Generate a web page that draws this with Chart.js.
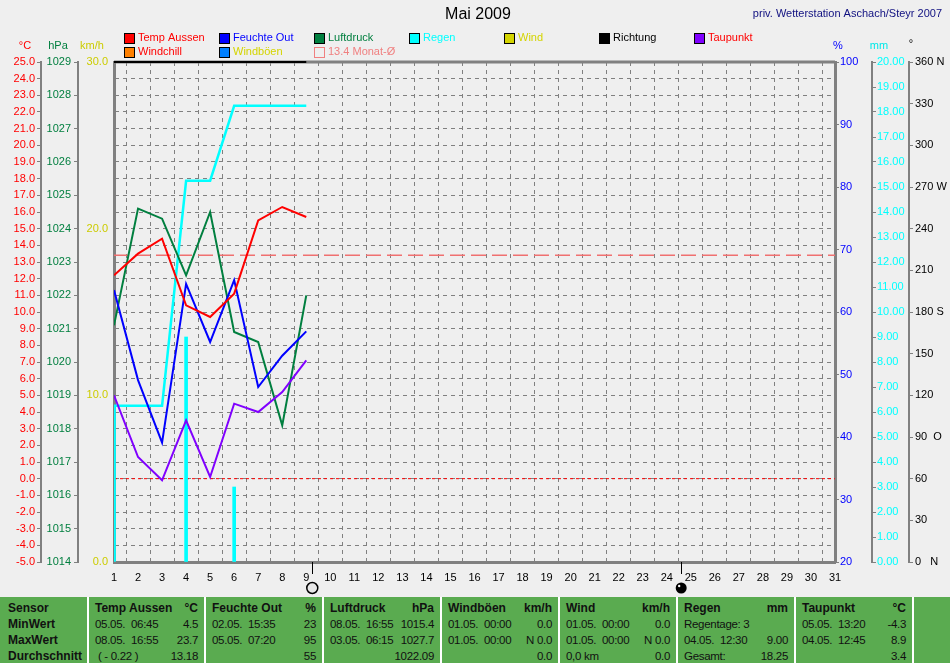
<!DOCTYPE html>
<html><head><meta charset="utf-8">
<script src="https://cdn.jsdelivr.net/npm/chart.js@4/dist/chart.umd.min.js"></script>
<style>
html,body{margin:0;padding:0;background:#efefef;}
#wrap{position:relative;width:950px;height:663px;overflow:hidden;font-family:"Liberation Sans",Arial,sans-serif;background:#efefef;}
#c{position:absolute;left:0;top:0;}
#tbl{position:absolute;left:0;top:597px;width:950px;height:66px;background:#5aab50;}
.sep{position:absolute;top:0;width:2px;height:66px;background:#fff;}
.t{position:absolute;font-size:11.5px;color:#111;white-space:pre;line-height:14px;letter-spacing:-0.3px;}
.b{font-weight:bold;font-size:12px;letter-spacing:0;}
</style></head>
<body>
<div id="wrap">
<canvas id="c" width="950" height="597"></canvas>
<div id="tbl"></div>
</div>
<script>
// ---- data ----
const days = [1, 2, 3, 4, 5, 6, 7, 8, 9];
const tempAussen = [12.2, 13.5, 14.4, 10.4, 9.7, 11.1, 15.5, 16.3, 15.7];
const feuchteOut = [63.5, 49.1, 39.1, 64.5, 55.2, 65.1, 48.0, 53.0, 56.9];
const luftdruck = [1021.1, 1024.6, 1024.3, 1022.6, 1024.5, 1020.9, 1020.6, 1018.1, 1022.0];
const taupunkt = [5.0, 1.3, -0.1, 3.5, 0.1, 4.5, 4.0, 5.2, 7.1];
const regenSumme = [6.25, 6.25, 6.25, 15.25, 15.25, 18.25, 18.25, 18.25, 18.25];
const regenTag = [6.25, 0, 0, 9.00, 0, 3.00, 0, 0, 0];
const monatMittel = 13.4;
const monthDays = [1, 31];
const moonFull = 9.25;
const moonNew = 24.6;
const dirTickValues = [0, 30, 60, 90, 120, 150, 180, 210, 240, 270, 300, 330, 360];
const dirTickLabels = ['0   N', '30', '60', '90  O', '120', '150', '180 S', '210', '240', '270 W', '300', '330', '360 N'];

// table texts
const tableCols = [
  {head:['Sensor',''], rows:[['MinWert',''],['MaxWert',''],['Durchschnitt','']], boldAll:true},
  {head:['Temp Aussen','°C'], rows:[['05.05.  06:45','4.5'],['08.05.  16:55','23.7'],[' ( - 0.22 )','13.18']]},
  {head:['Feuchte Out','%'], rows:[['02.05.  15:35','23'],['05.05.  07:20','95'],['','55']]},
  {head:['Luftdruck','hPa'], rows:[['08.05.  16:55','1015.4'],['03.05.  06:15','1027.7'],['','1022.09']]},
  {head:['Windböen','km/h'], rows:[['01.05.  00:00','0.0'],['01.05.  00:00','N 0.0'],['','0.0']]},
  {head:['Wind','km/h'], rows:[['01.05.  00:00','0.0'],['01.05.  00:00','N 0.0'],['0,0 km','0.0']]},
  {head:['Regen','mm'], rows:[['Regentage: 3',''],['04.05.  12:30','9.00'],['Gesamt:','18.25']]},
  {head:['Taupunkt','°C'], rows:[['05.05.  13:20','-4.3'],['04.05.  12:45','8.9'],['','3.4']]}
];
const colBounds = [0, 87, 204, 322, 440, 558, 676, 794, 912];

// ---- table ----
(function(){
  const tbl = document.getElementById('tbl');
  let html = '';
  for (let i = 1; i < colBounds.length; i++) html += `<div class="sep" style="left:${colBounds[i]}px"></div>`;
  const rowsTop = [4, 20, 36, 52];
  tableCols.forEach((c, i) => {
    const l = colBounds[i] + 8;
    const r = 950 - ((colBounds[i+1] || 950) - 6);
    const all = [c.head].concat(c.rows);
    all.forEach((row, k) => {
      const bold = (k === 0 || c.boldAll) ? ' b' : '';
      if (row[0]) html += `<div class="t${bold}" style="left:${l}px;top:${rowsTop[k]}px">${row[0]}</div>`;
      if (row[1]) html += `<div class="t${bold}" style="right:${r}px;top:${rowsTop[k]}px;text-align:right">${row[1]}</div>`;
    });
  });
  tbl.innerHTML = html;
})();

// ---- chart ----
const FONT = {family: '"Liberation Sans", Arial, sans-serif', size: 11};
const GRID = '#808080';
const pts = arr => days.map((d, i) => ({x: d, y: arr[i]}));

const legendItems = [
  {t:'Temp Aussen', box:'#ff0000', col:'#ff0000', x:124, row:0},
  {t:'Feuchte Out', box:'#0000ff', col:'#0000ff', x:219, row:0},
  {t:'Luftdruck', box:'#007f3f', col:'#007f3f', x:314, row:0},
  {t:'Regen', box:'#00ffff', col:'#00ffff', x:409, row:0},
  {t:'Wind', box:'#d4d400', col:'#d4d400', x:504, row:0},
  {t:'Richtung', box:'#000000', col:'#000000', x:599, row:0},
  {t:'Taupunkt', box:'#8000ff', col:'#ff0000', x:694, row:0},
  {t:'Windchill', box:'#ff8000', col:'#ff0000', x:124, row:1},
  {t:'Windböen', box:'#0080ff', col:'#d4d400', x:219, row:1},
  {t:monatMittel.toFixed(1) + ' Monat-Ø', box:null, col:'#f08080', x:314, row:1}
];

const deco = {
  id: 'deco',
  afterDraw(ch) {
    const c = ch.ctx, a = ch.chartArea, xs = ch.scales.x;
    c.save();
    // top border
    c.lineWidth = 3; c.strokeStyle = GRID;
    c.beginPath(); c.moveTo(a.left, a.top); c.lineTo(a.right, a.top); c.stroke();
    c.lineWidth = 2; c.strokeStyle = '#000';
    c.beginPath(); c.moveTo(a.left, a.top); c.lineTo(xs.getPixelForValue(days[days.length-1]), a.top); c.stroke();
    // title
    c.textBaseline = 'middle';
    c.textAlign = 'center'; c.fillStyle = '#000';
    c.font = '16px "Liberation Sans", Arial, sans-serif';
    c.fillText('Mai 2009', 478, 15);
    c.textAlign = 'right'; c.fillStyle = '#101080';
    c.font = '11px "Liberation Sans", Arial, sans-serif';
    c.fillText('priv. Wetterstation Aschach/Steyr 2007', 942, 14);
    // legend
    c.textAlign = 'left';
    legendItems.forEach(it => {
      const yTop = it.row === 0 ? 33 : 47;
      if (it.box) {
        c.fillStyle = it.box; c.fillRect(it.x, yTop, 10, 10);
        c.lineWidth = 1; c.strokeStyle = '#000'; c.strokeRect(it.x + 0.5, yTop + 0.5, 10, 10);
      } else {
        c.lineWidth = 1; c.strokeStyle = '#f08080'; c.strokeRect(it.x + 0.5, yTop + 0.5, 10, 10);
      }
      c.fillStyle = it.col;
      c.fillText(it.t, it.x + 14, yTop + 5);
    });
    // axis titles
    c.textAlign = 'center';
    [['°C', 25, 46, '#ff0000'], ['hPa', 58, 46, '#007f3f'], ['km/h', 92, 46, '#cccc00'],
     ['%', 838, 46, '#0000ff'], ['mm', 879, 46, '#00e8e8'], ['°', 911, 44, '#000']].forEach(t => {
      c.fillStyle = t[3]; c.fillText(t[0], t[1], t[2]);
    });
    // moon phase markers
    const xf = xs.getPixelForValue(moonFull), xn = xs.getPixelForValue(moonNew);
    c.strokeStyle = '#000'; c.lineWidth = 1;
    [xf, xn].forEach(x => { c.beginPath(); c.moveTo(Math.round(x) + 0.5, a.bottom); c.lineTo(Math.round(x) + 0.5, a.bottom + 12); c.stroke(); });
    c.beginPath(); c.arc(xf, 588, 5.5, 0, Math.PI * 2); c.fillStyle = '#e8e8e8'; c.fill(); c.lineWidth = 1.5; c.stroke();
    c.beginPath(); c.arc(xn, 588, 5.5, 0, Math.PI * 2); c.fillStyle = '#000'; c.fill();
    c.beginPath(); c.arc(xn - 2, 586, 1.2, 0, Math.PI * 2); c.fillStyle = '#fff'; c.fill();
    c.restore();
  }
};

const yBase = (w) => ({afterFit(s) { s.width = w; }});

new Chart(document.getElementById('c'), {
  type: 'line',
  data: {
    datasets: [
      {label: 'Taupunkt', data: pts(taupunkt), yAxisID: 'yT', borderColor: '#8000ff'},
      {label: 'Temp Aussen', data: pts(tempAussen), yAxisID: 'yT', borderColor: '#ff0000'},
      {label: 'Feuchte Out', data: pts(feuchteOut), yAxisID: 'yH', borderColor: '#0000ff'},
      {label: 'Luftdruck', data: pts(luftdruck), yAxisID: 'yP', borderColor: '#007f3f'},
      {label: 'Regen', data: pts(regenSumme), yAxisID: 'yR', borderColor: '#00ffff', borderWidth: 2.5},
      {type: 'bar', label: 'Regen Tag', data: pts(regenTag).filter(p => p.y > 0), yAxisID: 'yR',
       backgroundColor: '#00ffff', borderWidth: 0, barThickness: 3},
      {label: 'Monat', data: monthDays.map(d => ({x: d, y: monatMittel})), yAxisID: 'yT',
       borderColor: '#f07070', borderWidth: 1.5, borderDash: [15, 6]},
      {label: 'Null', data: monthDays.map(d => ({x: d, y: 0})), yAxisID: 'yT',
       borderColor: '#ff0000', borderWidth: 1, borderDash: [3, 3]}
    ]
  },
  options: {
    responsive: false, animation: false,
    layout: {padding: {top: 62, left: 0, right: 0, bottom: 0}},
    plugins: {legend: {display: false}, tooltip: {enabled: false}},
    elements: {line: {tension: 0, borderWidth: 2, fill: false}, point: {radius: 0}},
    scales: {
      x: {type: 'linear', min: 1, max: 31, offset: false,
          ticks: {stepSize: 1, autoSkip: false, maxRotation: 0, color: '#000', font: FONT, padding: 9},
          grid: {color: GRID, drawTicks: false},
          border: {color: GRID, width: 3, dash: [4, 4]},
          afterFit(s) { s.height = 35; }},
      yT: Object.assign(yBase(41), {position: 'left', weight: 3, min: -5, max: 25,
          ticks: {stepSize: 1, color: '#ff0000', font: FONT, padding: 2, callback: v => v.toFixed(1)},
          grid: {color: GRID, tickLength: 4, tickColor: GRID},
          border: {color: GRID, width: 2, dash: [4, 4]}}),
      yP: Object.assign(yBase(37), {position: 'left', weight: 2, min: 1014, max: 1029,
          ticks: {stepSize: 1, color: '#007f3f', font: FONT, padding: 3, callback: v => String(v)},
          grid: {drawOnChartArea: false, tickLength: 4, tickColor: GRID},
          border: {color: GRID, width: 2}}),
      yW: Object.assign(yBase(36), {position: 'left', weight: 1, min: 0, max: 30,
          ticks: {stepSize: 10, color: '#cccc00', font: FONT, padding: 6, callback: v => v.toFixed(1)},
          grid: {drawOnChartArea: false, drawTicks: false},
          border: {color: GRID, width: 3}}),
      yH: Object.assign(yBase(37), {position: 'right', weight: 1, min: 20, max: 100,
          ticks: {stepSize: 10, color: '#0000ff', font: FONT, padding: 1},
          grid: {drawOnChartArea: false, tickLength: 4, tickColor: GRID},
          border: {color: GRID, width: 3}}),
      yR: Object.assign(yBase(37), {position: 'right', weight: 2, min: 0, max: 20,
          ticks: {stepSize: 1, color: '#00ffff', font: FONT, padding: 1, callback: v => v.toFixed(2)},
          grid: {drawOnChartArea: false, tickLength: 4, tickColor: GRID},
          border: {color: GRID, width: 2}}),
      yD: Object.assign(yBase(41), {position: 'right', weight: 3, min: 0, max: 360,
          afterBuildTicks(s) { s.ticks = dirTickValues.map(v => ({value: v})); },
          ticks: {color: '#000', font: FONT, padding: 2,
                  callback: v => dirTickLabels[dirTickValues.indexOf(v)]},
          grid: {drawOnChartArea: false, tickLength: 4, tickColor: GRID},
          border: {color: GRID, width: 2}})
    }
  },
  plugins: [deco]
});
</script>
</body></html>
